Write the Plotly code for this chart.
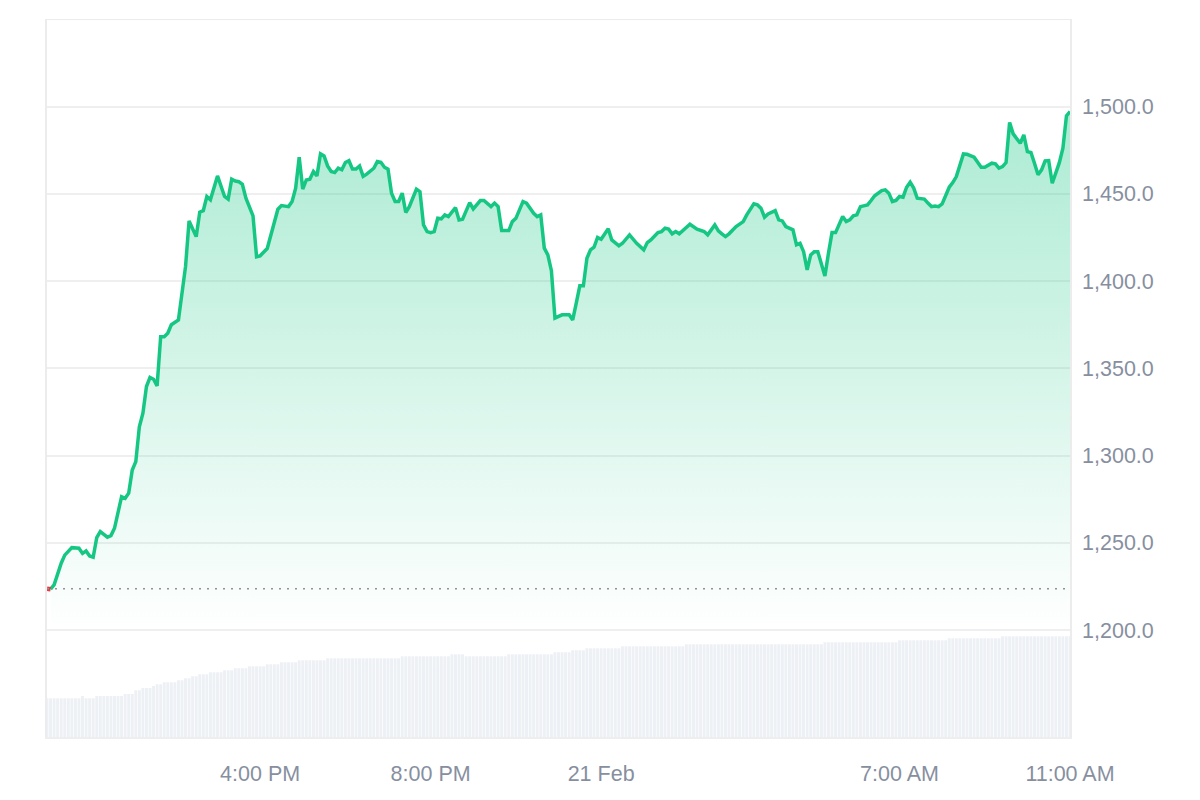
import pandas as pd
import plotly.graph_objects as go

# ---------------- data ----------------
START = pd.Timestamp("2025-02-20 11:00")
STEP_MIN = 5  # one slot = 5 minutes

price_slots = [
    0, 1, 2, 4, 5, 7, 9, 10, 11, 12, 13, 14, 15, 17, 18, 19, 21, 22, 23, 24,
    25, 26, 27, 28, 29, 30, 31, 32, 33, 34, 35, 37, 38, 39, 40, 42, 43, 44, 45, 46,
    48, 50, 51, 52, 53, 54, 55, 56, 58, 59, 60, 62, 65, 66, 68, 69, 70, 71, 72, 73,
    74, 75, 76, 77, 78, 79, 80, 81, 82, 83, 84, 85, 86, 87, 88, 89, 90, 92, 93, 94,
    95, 96, 97, 98, 99, 100, 101, 102, 104, 105, 106, 107, 108, 109, 110, 111, 112, 113, 115, 116,
    117, 119, 120, 122, 123, 125, 126, 127, 128, 130, 131, 132, 134, 135, 137, 138, 139, 140, 141, 142,
    143, 145, 147, 148, 149, 150, 151, 152, 153, 154, 155, 156, 158, 159, 161, 162, 164, 166, 168, 169,
    170, 172, 173, 174, 175, 176, 177, 178, 181, 183, 185, 186, 188, 189, 190, 191, 192, 193, 194, 196,
    197, 199, 200, 201, 202, 203, 205, 206, 207, 208, 210, 211, 212, 213, 214, 215, 216, 217, 218, 219,
    220, 221, 222, 224, 225, 226, 227, 228, 229, 231, 232, 233, 235, 236, 237, 238, 239, 240, 241, 242,
    243, 244, 245, 247, 248, 249, 250, 251, 252, 254, 255, 256, 258, 259, 261, 262, 263, 264, 266, 267,
    268, 269, 270, 271, 272, 274, 275, 276, 277, 278, 279, 280, 281, 282, 283, 285, 286, 287, 288,
]
prices = [
    1223.8, 1223.5, 1226.0, 1238.4, 1243.0, 1247.3, 1247.0, 1244.0, 1245.4, 1242.5,
    1241.8, 1253.0, 1256.5, 1253.3, 1254.2, 1258.4, 1276.5, 1275.6, 1278.5, 1291.8,
    1296.6, 1316.6, 1324.3, 1339.6, 1344.8, 1343.8, 1340.0, 1368.2, 1368.2, 1370.2,
    1375.0, 1377.8, 1393.0, 1408.3, 1434.5, 1425.5, 1439.5, 1440.4, 1448.5, 1446.6,
    1460.3, 1448.5, 1447.0, 1458.4, 1457.4, 1457.0, 1455.5, 1447.5, 1437.4, 1414.0,
    1414.5, 1418.7, 1441.2, 1443.3, 1442.7, 1445.6, 1453.3, 1471.0, 1452.7, 1458.0,
    1458.4, 1462.8, 1460.3, 1473.0, 1471.8, 1466.0, 1462.8, 1462.2, 1464.7, 1463.8,
    1468.0, 1469.0, 1464.2, 1464.2, 1466.0, 1460.0, 1461.3, 1464.7, 1468.5, 1468.1,
    1465.3, 1464.2, 1450.4, 1445.6, 1445.6, 1450.4, 1439.3, 1442.7, 1452.7, 1451.3,
    1432.2, 1428.4, 1427.8, 1428.4, 1436.0, 1435.7, 1438.0, 1437.0, 1442.1, 1435.1,
    1435.5, 1445.0, 1441.4, 1446.2, 1446.2, 1442.7, 1444.7, 1442.7, 1429.0, 1429.0,
    1434.1, 1436.0, 1445.6, 1444.7, 1438.9, 1437.0, 1438.0, 1418.9, 1415.0, 1406.0,
    1378.8, 1380.7, 1380.7, 1377.8, 1387.4, 1397.3, 1397.3, 1413.1, 1417.9, 1419.4,
    1425.0, 1424.0, 1430.0, 1423.6, 1420.2, 1421.7, 1426.5, 1421.7, 1417.9, 1422.1,
    1423.6, 1427.8, 1428.4, 1430.3, 1429.8, 1427.1, 1428.4, 1427.1, 1432.6, 1429.8,
    1428.4, 1426.5, 1432.2, 1428.8, 1427.1, 1425.5, 1427.1, 1429.4, 1431.3, 1434.1,
    1438.0, 1444.3, 1443.7, 1441.8, 1436.6, 1438.5, 1440.4, 1435.1, 1434.5, 1431.3,
    1429.4, 1420.8, 1421.7, 1416.9, 1406.4, 1415.0, 1416.9, 1416.9, 1409.3, 1403.0,
    1416.0, 1427.8, 1427.8, 1437.0, 1434.1, 1435.1, 1437.4, 1438.0, 1442.7, 1443.7,
    1446.2, 1448.9, 1451.9, 1452.3, 1450.4, 1445.6, 1446.2, 1448.5, 1448.1, 1453.8,
    1456.7, 1453.3, 1447.5, 1447.0, 1444.7, 1442.7, 1443.1, 1442.7, 1444.3, 1453.8,
    1456.5, 1459.9, 1472.9, 1472.7, 1471.0, 1468.5, 1465.3, 1465.3, 1467.6, 1467.2,
    1464.7, 1465.6, 1467.9, 1490.9, 1484.4, 1479.0, 1483.8, 1474.2, 1473.7, 1467.6,
    1460.9, 1463.8, 1468.9, 1469.1, 1456.1, 1467.9, 1476.2, 1494.7, 1497.2,
]

# volume bars (one per 5-minute slot), run-length encoded: level, number of slots
vol_levels = [
    38.7, 41.0, 38.7, 41.0, 43.0, 46.7, 49.0, 51.0, 52.7, 54.7,
    56.7, 58.7, 60.7, 62.7, 64.7, 66.7, 68.7, 70.7, 72.7, 74.7,
    76.7, 78.7, 80.7, 82.7, 80.7, 82.7, 84.7, 86.7, 88.7, 90.7,
    92.7, 94.7, 96.7, 98.7, 100.7,
]
vol_runs = [
    10, 1, 3, 8, 3, 2, 3, 1, 2, 4,
    2, 2, 2, 3, 4, 3, 4, 5, 4, 5,
    8, 21, 14, 4, 12, 13, 5, 4, 10, 18,
    39, 21, 14, 15, 20,
]

y_ticks = [1200, 1250, 1300, 1350, 1400, 1450, 1500]
x_tick_times = ["2025-02-20 16:00", "2025-02-20 20:00", "2025-02-21 00:00",
                "2025-02-21 07:00", "2025-02-21 11:00"]
x_tick_labels = ["4:00 PM", "8:00 PM", "21 Feb", "7:00 AM", "11:00 AM"]

# ---------------- build ----------------
times = [START + pd.Timedelta(minutes=STEP_MIN * s) for s in price_slots]
volumes = []
for lvl, n in zip(vol_levels, vol_runs):
    volumes.extend([lvl] * n)
vol_times = [START + pd.Timedelta(minutes=STEP_MIN * i) for i in range(len(volumes))]
baseline = prices[0]

GREEN = "#16c784"
RED = "#ea3943"
TXT = "#878f9f"
GRID = "#efefef"
FONT = "Liberation Sans, Arial, Helvetica, sans-serif"

fig = go.Figure()

fig.add_trace(go.Bar(
    x=vol_times, y=volumes, yaxis="y2",
    marker=dict(color="#edf0f4", line=dict(width=0)),
    hoverinfo="skip",
))
fig.add_trace(go.Scatter(
    x=times[1:], y=prices[1:], mode="lines",
    line=dict(color=GREEN, width=3.5),
    fill="tozeroy",
    fillgradient=dict(
        type="vertical",
        start=1200, stop=1500,
        colorscale=[[0, "rgba(22,199,132,0)"], [1, "rgba(22,199,132,0.36)"]],
    ),
    hoverinfo="skip",
))
fig.add_trace(go.Scatter(
    x=times[:2], y=prices[:2], mode="lines",
    line=dict(color=RED, width=4.5), hoverinfo="skip",
))

y_top, y_bot = 1550.2, 1138.8

fig.update_layout(
    width=1192, height=792,
    margin=dict(l=39, r=130, t=11, b=63),
    paper_bgcolor="white", plot_bgcolor="white",
    showlegend=False, bargap=0.18,
    font=dict(family=FONT, size=21.5, color=TXT),
    xaxis=dict(
        type="date",
        range=[START, START + pd.Timedelta(hours=24)],
        tickvals=x_tick_times, ticktext=x_tick_labels,
        showgrid=False, zeroline=False,
        showline=True, linecolor="#eeeeee", linewidth=1.5,
        ticks="", ticklabelstandoff=16,
        tickfont=dict(family=FONT, size=21.5, color=TXT),
    ),
    yaxis=dict(
        side="right", range=[y_bot, y_top],
        tickvals=y_ticks, tickformat=",.1f",
        showgrid=True, gridcolor=GRID, gridwidth=1.5,
        zeroline=False,
        showline=True, mirror=True, linecolor="#ececec", linewidth=1.5,
        ticks="", ticklabelstandoff=6,
        tickfont=dict(family=FONT, size=21.5, color=TXT),
    ),
    yaxis2=dict(
        overlaying="y", range=[0, 718], visible=False, fixedrange=True,
    ),
    shapes=[
        dict(type="line", xref="paper", x0=0, x1=1, yref="y", y0=1550, y1=1550,
             line=dict(color="#ececec", width=1.5), layer="below"),
        dict(type="line", xref="paper", x0=0, x1=1, yref="y", y0=baseline, y1=baseline,
             line=dict(color="#8f949c", width=1.5, dash="2px,6px"), layer="above"),
    ],
)

fig.write_html("out.html")
